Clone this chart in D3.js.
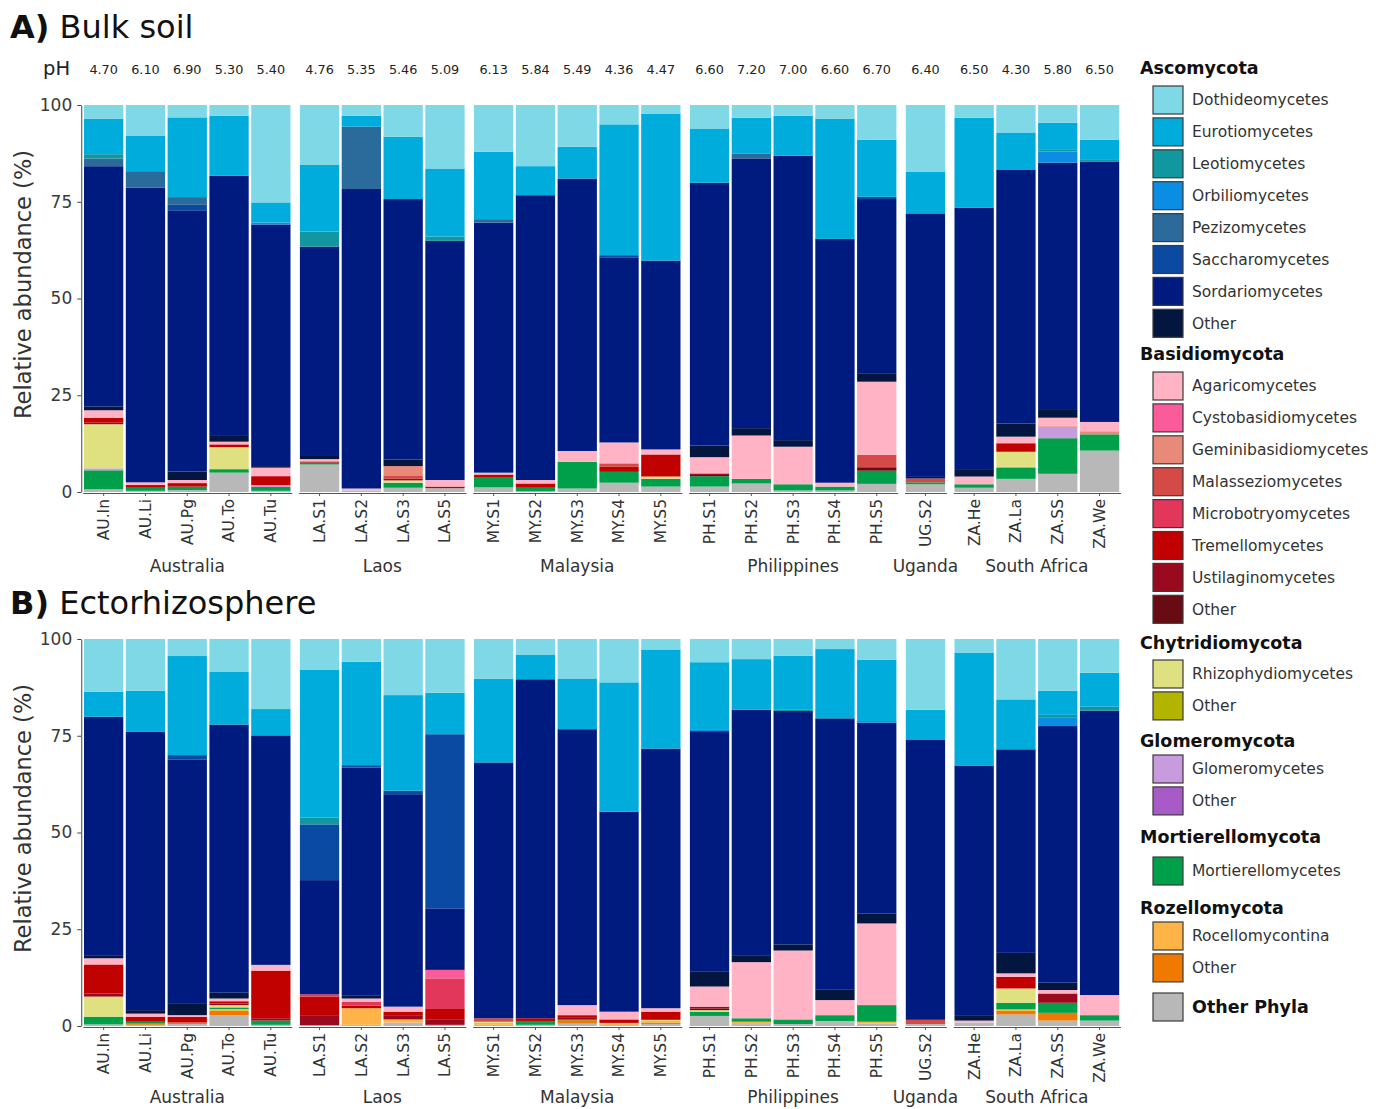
<!DOCTYPE html>
<html>
<head>
<meta charset="utf-8">
<script src="https://cdn.jsdelivr.net/npm/d3@7"></script>
<style>
  body { margin: 0; background: #fff; }
  svg text { font-family: "DejaVu Sans", Verdana, sans-serif; }
</style>
</head>
<body>
<svg id="chart" width="1386" height="1109"></svg>
<script>
// ---- Samples, sites and soil pH ----
const samples = ["AU.In","AU.Li","AU.Pg","AU.To","AU.Tu",
                 "LA.S1","LA.S2","LA.S3","LA.S5",
                 "MY.S1","MY.S2","MY.S3","MY.S4","MY.S5",
                 "PH.S1","PH.S2","PH.S3","PH.S4","PH.S5",
                 "UG.S2",
                 "ZA.He","ZA.La","ZA.SS","ZA.We"];
const sampleCountry = ["Australia","Australia","Australia","Australia","Australia",
                       "Laos","Laos","Laos","Laos",
                       "Malaysia","Malaysia","Malaysia","Malaysia","Malaysia",
                       "Philippines","Philippines","Philippines","Philippines","Philippines",
                       "Uganda",
                       "South Africa","South Africa","South Africa","South Africa"];
const countries = ["Australia","Laos","Malaysia","Philippines","Uganda","South Africa"];
const pHLabels = ["4.70","6.10","6.90","5.30","5.40",
                  "4.76","5.35","5.46","5.09",
                  "6.13","5.84","5.49","4.36","4.47",
                  "6.60","7.20","7.00","6.60","6.70",
                  "6.40",
                  "6.50","4.30","5.80","6.50"];
const yTickValues = [0, 25, 50, 75, 100];

// ---- Taxonomic classes (legend order, top of stack first) ----
const classKeys = ["Doth","Euro","Leo","Orb","Pez","Sac","Sord","AscO",
                   "Agar","Cyst","Gem","Mal","Mic","Tre","Ust","BasO",
                   "Rhi","ChyO","Glo","GloO","Mor","Roc","RozO","OthP"];
const classLabels = ["Dothideomycetes","Eurotiomycetes","Leotiomycetes","Orbiliomycetes",
                     "Pezizomycetes","Saccharomycetes","Sordariomycetes","Other",
                     "Agaricomycetes","Cystobasidiomycetes","Geminibasidiomycetes","Malasseziomycetes",
                     "Microbotryomycetes","Tremellomycetes","Ustilaginomycetes","Other",
                     "Rhizophydiomycetes","Other","Glomeromycetes","Other",
                     "Mortierellomycetes","Rocellomycontina","Other","Other Phyla"];
const phylumNames = ["Ascomycota","Basidiomycota","Chytridiomycota","Glomeromycota",
                     "Mortierellomycota","Rozellomycota"];
const phylumOfClass = [0,0,0,0,0,0,0,0, 1,1,1,1,1,1,1,1, 2,2, 3,3, 4, 5,5, -1];
const classColors = ["#7fd8e6","#00acdc","#10979f","#0a8de2","#2b6b9b","#0b4aa3","#001b80","#031640",
                     "#ffb3c5","#fa5b9a","#e9897a","#d44a47","#e2365a","#c10000","#9a0a1f","#680b12",
                     "#dfe07f","#b3b400","#c79bde","#a85bc7","#00a04a","#ffb448","#f07a00","#b8b8b8"];

// ---- Relative abundance (%) per sample, bulk soil ----
const bulkSoil = [
  {Doth:3.6, Euro:9.1, Leo:1.1, Pez:2.0, Sord:62.0, AscO:1.0, Agar:2.0, Tre:1.2, Ust:0.4, Rhi:11.4, Glo:0.5, Mor:4.9, OthP:0.7},
  {Doth:8.0, Euro:9.1, Pez:4.3, Sord:76.1, Agar:0.7, Tre:0.7, Mor:0.8, OthP:0.3},
  {Doth:3.2, Euro:20.6, Pez:2.0, Sac:1.4, Sord:67.5, AscO:2.2, Agar:0.8, Tre:0.9, Mor:0.9, OthP:0.5},
  {Doth:2.8, Euro:15.5, Sord:67.0, AscO:1.7, Agar:0.7, Tre:0.7, Rhi:5.7, Mor:0.9, OthP:5.0},
  {Doth:25.2, Euro:5.2, Orb:0.5, Sord:62.5, AscO:0.4, Agar:2.2, Tre:2.3, Glo:0.5, Mor:1.0, OthP:0.3},
  {Doth:15.5, Euro:17.2, Leo:3.9, Sord:54.1, AscO:0.8, Agar:0.6, Tre:0.3, Mor:0.5, OthP:7.1},
  {Doth:2.8, Euro:2.8, Pez:16.1, Sord:77.4, Agar:0.5, OthP:0.4},
  {Doth:8.2, Euro:16.1, Sord:67.3, AscO:1.7, Gem:2.4, Mal:0.9, Ust:0.4, Rhi:0.6, Mor:1.3, OthP:1.1},
  {Doth:16.4, Euro:17.6, Leo:1.1, Sord:61.8, Agar:1.7, Tre:0.4, OthP:1.0},
  {Doth:12.1, Euro:17.4, Pez:0.9, Sord:64.6, Agar:0.5, Tre:0.8, Mor:2.5, OthP:1.2},
  {Doth:15.8, Euro:7.5, Sord:73.6, Agar:0.9, Tre:1.1, Mor:0.9, OthP:0.2},
  {Doth:10.8, Euro:8.2, Sord:70.4, Agar:2.8, Mor:6.9, OthP:0.9},
  {Doth:5.0, Euro:33.8, Sac:0.7, Sord:47.7, Agar:5.4, Mal:0.9, Tre:1.3, Mor:2.8, OthP:2.4},
  {Doth:2.2, Euro:38.0, Sord:48.8, Agar:1.3, Tre:5.7, Rhi:0.6, Mor:2.0, OthP:1.4},
  {Doth:6.2, Euro:13.9, Sord:67.9, AscO:3.0, Agar:4.2, Ust:0.4, BasO:0.3, Mor:2.7, OthP:1.4},
  {Doth:3.3, Euro:9.2, Pez:1.3, Sord:69.7, AscO:1.9, Agar:11.2, Mor:1.2, OthP:2.2},
  {Doth:2.8, Euro:10.3, Sord:73.5, AscO:1.7, Agar:9.7, Mor:1.6, OthP:0.4},
  {Doth:3.6, Euro:31.0, Sord:63.0, Agar:1.0, Mor:1.0, OthP:0.4},
  {Doth:9.0, Euro:14.7, Sac:0.6, Sord:45.0, AscO:2.2, Agar:18.9, Mal:3.2, BasO:0.9, Mor:3.4, OthP:2.1},
  {Doth:17.2, Euro:10.8, Sord:68.1, AscO:0.4, Mal:1.0, Mor:0.5, OthP:2.0},
  {Doth:3.3, Euro:23.2, Sord:67.8, AscO:1.7, Agar:2.0, Mor:0.9, OthP:1.1},
  {Doth:7.1, Euro:9.7, Sord:65.5, AscO:3.4, Agar:1.7, Tre:2.2, Rhi:3.9, Glo:0.3, Mor:2.8, OthP:3.4},
  {Doth:4.6, Euro:7.0, Leo:0.4, Orb:2.9, Sord:63.9, AscO:2.0, Agar:2.1, Gem:0.2, Glo:3.0, Mor:9.2, OthP:4.7},
  {Doth:9.0, Euro:5.0, Leo:0.7, Sord:67.2, Agar:2.4, Gem:0.8, Mor:4.2, OthP:10.7}
];

// ---- Relative abundance (%) per sample, ectorhizosphere ----
const ectorhizosphere = [
  {Doth:13.6, Euro:6.5, Sord:61.6, AscO:0.8, Agar:1.6, Tre:7.5, Ust:0.8, Rhi:5.2, Mor:2.0, OthP:0.4},
  {Doth:13.4, Euro:10.5, Sord:72.0, AscO:0.9, Agar:0.8, Tre:1.3, Mor:0.5, RozO:0.3, OthP:0.3},
  {Doth:4.4, Euro:25.6, Sac:1.1, Sord:63.0, AscO:3.1, Agar:0.4, Tre:1.5, RozO:0.4, OthP:0.5},
  {Doth:8.4, Euro:13.7, Sord:69.3, AscO:1.5, Agar:0.7, Tre:0.6, Ust:0.4, Rhi:0.6, Mor:0.4, Roc:0.5, RozO:1.1, OthP:2.8},
  {Doth:18.1, Euro:6.8, Sord:59.3, Agar:1.5, Tre:12.3, Ust:0.6, Mor:1.1, OthP:0.3},
  {Doth:8.0, Euro:38.1, Leo:1.8, Sac:14.4, Sord:29.5, Mic:0.6, Tre:4.8, Ust:2.6, OthP:0.2},
  {Doth:5.9, Euro:26.7, Sac:0.6, Sord:59.0, AscO:0.7, Agar:0.9, Mic:0.9, Tre:0.7, Roc:4.3, OthP:0.3},
  {Doth:14.5, Euro:24.7, Sac:0.9, Sord:54.9, Agar:1.3, Tre:0.9, Ust:1.1, Roc:0.8, OthP:0.9},
  {Doth:13.9, Euro:10.7, Sac:45.0, Sord:15.9, Cyst:2.2, Mic:7.9, Tre:2.8, Ust:1.3, OthP:0.3},
  {Doth:10.3, Euro:21.6, Sord:66.1, Mal:0.9, Rhi:0.3, Roc:0.5, OthP:0.3},
  {Doth:4.0, Euro:6.4, Sord:87.6, Tre:0.7, Mor:1.0, OthP:0.3},
  {Doth:10.2, Euro:13.1, Sord:71.3, Agar:2.6, Tre:0.7, Ust:0.3, Mor:0.3, RozO:0.9, OthP:0.6},
  {Doth:11.2, Euro:33.4, Sord:51.7, Agar:2.0, Tre:0.9, Roc:0.4, RozO:0.2, OthP:0.2},
  {Doth:2.7, Euro:25.6, Sord:67.1, Agar:0.9, Tre:2.1, Rhi:0.3, Roc:0.5, RozO:0.3, OthP:0.5},
  {Doth:6.0, Euro:17.3, Orb:0.5, Sord:62.2, AscO:3.8, Agar:5.2, Ust:0.5, BasO:0.4, Rhi:0.4, Mor:1.1, OthP:2.6},
  {Doth:5.2, Euro:13.1, Sord:63.4, AscO:1.8, Agar:14.5, Mor:0.9, Roc:0.6, OthP:0.5},
  {Doth:4.3, Euro:14.0, Leo:0.3, Sord:60.3, AscO:1.6, Agar:17.8, Mor:1.2, OthP:0.5},
  {Doth:2.6, Euro:17.9, Sord:70.0, AscO:2.8, Agar:3.9, Mor:1.5, OthP:1.3},
  {Doth:5.4, Euro:15.8, Orb:0.4, Sord:49.3, AscO:2.6, Agar:21.1, Mor:4.3, Roc:0.5, OthP:0.6},
  {Doth:18.3, Euro:7.8, Sord:72.3, Mal:1.1, OthP:0.5},
  {Doth:3.5, Euro:29.3, Sord:64.4, AscO:1.4, Agar:0.5, OthP:0.9},
  {Doth:15.6, Euro:12.9, Sord:52.6, AscO:5.3, Agar:0.9, Tre:3.0, Rhi:3.7, Mor:1.7, Roc:0.4, RozO:0.9, OthP:3.0},
  {Doth:13.4, Euro:6.2, Leo:0.6, Orb:2.3, Sord:66.3, AscO:1.9, Agar:0.9, Ust:2.4, Mor:2.6, RozO:2.0, OthP:1.4},
  {Doth:8.7, Euro:8.8, Leo:1.0, Sord:73.5, Agar:5.2, Mor:1.4, OthP:1.4}
];

// ---- Layout ----
const svg = d3.select("#chart");
const textColor = "#333";
const step = 41.8, facetGap = 6.9, plotLeft = 82.75;

// facet panels sized by number of samples (free x scales)
let cursor = plotLeft;
const facets = countries.map(c => {
  const members = samples.filter((s, i) => sampleCountry[i] === c);
  const start = cursor, end = cursor + members.length * step;
  cursor = end + facetGap;
  const x = d3.scaleBand().domain(members).range([start, end])
    .paddingInner(0.06).paddingOuter(0.03);
  return { country: c, members, start, end, x };
});
const xOf = s => facets.find(f => f.members.includes(s)).x;

const colorScale = d3.scaleOrdinal().domain(classKeys).range(classColors);
const stackKeys = classKeys.slice().reverse(); // bottom of bar = Other Phyla

function drawPanel(rows, top, bottom, title, titleY, stripOffset, showPH) {
  const g = svg.append("g");
  const y = d3.scaleLinear().domain([0, 1]).range([bottom, top]);
  const table = rows.map((r, i) => Object.assign({ sample: samples[i] }, r));
  const series = d3.stack()
    .keys(stackKeys)
    .value((d, k) => d[k] || 0)
    .offset(d3.stackOffsetExpand)(table);

  // stacked bars
  g.selectAll("g.layer").data(series).join("g")
    .attr("class", "layer")
    .attr("fill", d => colorScale(d.key))
    .selectAll("rect").data(d => d.filter(p => p[1] - p[0] > 0)).join("rect")
    .attr("x", p => xOf(p.data.sample)(p.data.sample))
    .attr("width", p => xOf(p.data.sample).bandwidth())
    .attr("y", p => y(p[1]))
    .attr("height", p => y(p[0]) - y(p[1]));

  // y axis
  const yAxis = d3.axisLeft(y)
    .tickValues(yTickValues.map(v => v / 100))
    .tickFormat(v => d3.format("d")(v * 100))
    .tickSize(4).tickSizeOuter(0).tickPadding(5);
  const ya = g.append("g").attr("transform", `translate(${plotLeft - 1.5},0)`).call(yAxis);
  ya.select(".domain").attr("stroke", "#444");
  ya.selectAll(".tick line").attr("stroke", "#444");
  ya.selectAll(".tick text").attr("fill", "#3a3a3a").style("font-size", "17px")
    .style("font-family", "'DejaVu Sans', Verdana, sans-serif");

  g.append("text")
    .attr("transform", `translate(31,${(top + bottom) / 2 - 14}) rotate(-90)`)
    .attr("text-anchor", "middle")
    .attr("fill", textColor)
    .style("font-size", "22.5px")
    .text("Relative abundance (%)");

  // x axes, one per facet
  facets.forEach(f => {
    const xa = g.append("g").attr("transform", `translate(0,${bottom + 1})`)
      .call(d3.axisBottom(f.x).tickSize(3).tickSizeOuter(0).tickFormat(""));
    xa.select(".domain").attr("stroke", "#555");
    xa.selectAll(".tick line").attr("stroke", "#555");

    f.members.forEach(s => {
      g.append("text")
        .attr("transform", `translate(${f.x(s) + f.x.bandwidth() / 2},${bottom + 7}) rotate(-90)`)
        .attr("text-anchor", "end")
        .attr("dy", "0.35em")
        .attr("fill", textColor)
        .style("font-size", "15.5px")
        .text(s);
    });

    g.append("text")
      .attr("x", (f.start + f.end) / 2)
      .attr("y", bottom + stripOffset)
      .attr("text-anchor", "middle")
      .attr("fill", textColor)
      .style("font-size", "17px")
      .text(f.country);
  });

  // pH row above the bars
  if (showPH) {
    g.append("text").attr("x", 43).attr("y", top - 30)
      .attr("fill", "#222").style("font-size", "19.5px").text("pH");
    samples.forEach((s, i) => {
      const x = xOf(s);
      g.append("text")
        .attr("x", x(s) + x.bandwidth() / 2)
        .attr("y", top - 31)
        .attr("text-anchor", "middle")
        .attr("fill", "#222")
        .style("font-size", "12.8px")
        .text(pHLabels[i]);
    });
  }

  // panel title
  const t = svg.append("text").attr("x", 10).attr("y", titleY)
    .attr("fill", "#111").style("font-size", "32px");
  t.append("tspan").style("font-weight", "bold").text(title[0]);
  t.append("tspan").text(" " + title[1]);
}

drawPanel(bulkSoil, 105, 492, ["A)", "Bulk soil"], 38, 80, true);
drawPanel(ectorhizosphere, 639, 1026, ["B)", "Ectorhizosphere"], 614, 77, false);

// ---- Legend grouped by phylum ----
const legend = svg.append("g");
const legendX = 1140, boxX = 1153, labelX = 1192;
const headerY = [68, 354, 643, 741, 837, 908];
const firstItemGap = [32, 32, 31, 28, 34, 28];
const rowH = 31.9;
phylumNames.forEach((p, pi) => {
  legend.append("text").attr("x", legendX).attr("y", headerY[pi]).attr("dy", "0.35em")
    .attr("fill", "#111").style("font-size", "17.5px").style("font-weight", "bold").text(p);
  const idx = classKeys.map((k, i) => i).filter(i => phylumOfClass[i] === pi);
  idx.forEach((ci, j) => {
    const cy = headerY[pi] + firstItemGap[pi] + j * rowH;
    legend.append("rect").attr("x", boxX).attr("y", cy - 14).attr("width", 30).attr("height", 28)
      .attr("fill", classColors[ci]).attr("stroke", "#3a3a3a").attr("stroke-width", 1.2);
    legend.append("text").attr("x", labelX).attr("y", cy).attr("dy", "0.35em")
      .attr("fill", textColor).style("font-size", "15.5px").text(classLabels[ci]);
  });
});
// other phyla entry
{
  const ci = classKeys.indexOf("OthP"), cy = 1007;
  legend.append("rect").attr("x", boxX).attr("y", cy - 14).attr("width", 30).attr("height", 28)
    .attr("fill", classColors[ci]).attr("stroke", "#3a3a3a").attr("stroke-width", 1.2);
  legend.append("text").attr("x", labelX).attr("y", cy).attr("dy", "0.35em")
    .attr("fill", "#111").style("font-size", "17.5px").style("font-weight", "bold").text(classLabels[ci]);
}
</script>
</body>
</html>
